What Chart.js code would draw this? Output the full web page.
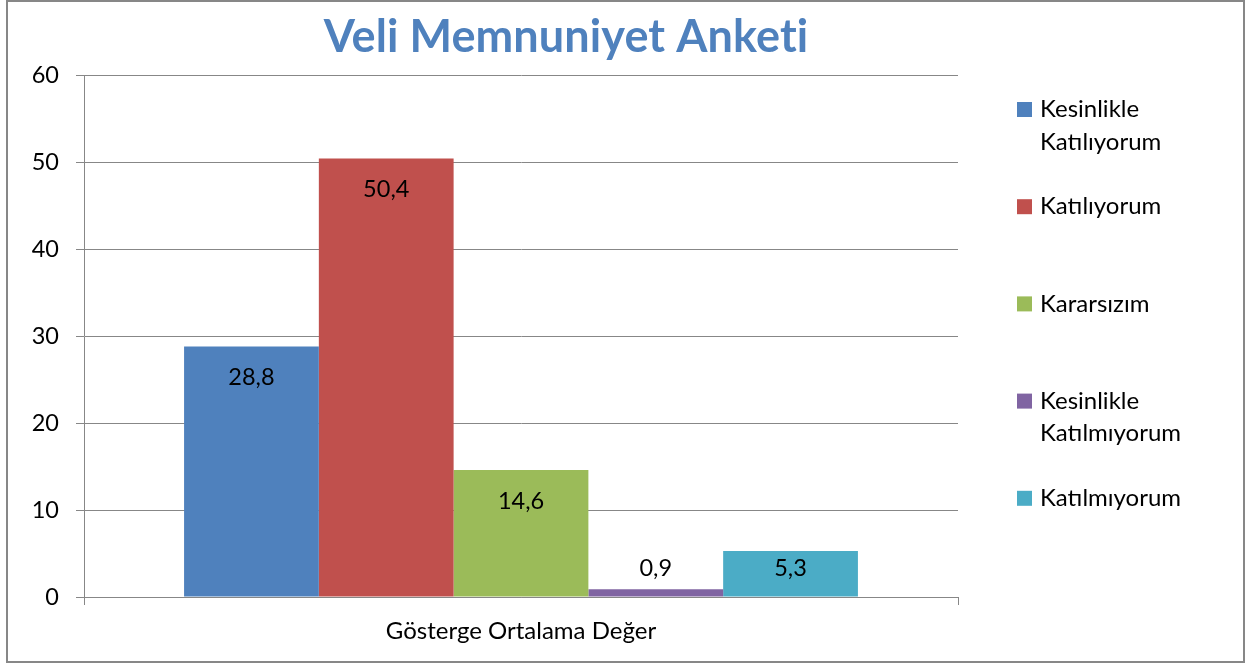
<!DOCTYPE html>
<html>
<head>
<meta charset="utf-8">
<script src="https://cdn.jsdelivr.net/npm/chart.js@4.4.1/dist/chart.umd.min.js"></script>
<style>
html,body{margin:0;padding:0;background:#fff;}
#wrap{width:1248px;height:666px;position:relative;}
</style>
</head>
<body>
<div id="wrap"><canvas id="c" width="1248" height="666"></canvas></div>
<script>
const chartTitle = 'Veli Memnuniyet Anketi';
const categories = ['Gösterge Ortalama Değer'];
const seriesNames = ['Kesinlikle Katılıyorum', 'Katılıyorum', 'Kararsızım', 'Kesinlikle Katılmıyorum', 'Katılmıyorum'];
const seriesValues = [28.8, 50.4, 14.6, 0.9, 5.3];
const seriesColors = ['#4F81BD', '#C0504D', '#9BBB59', '#8064A2', '#4BACC6'];
const yTicks = [0, 10, 20, 30, 40, 50, 60];

const FONT = 'Lato, "Open Sans", sans-serif';
const GRID = '#878787';

const framePlugin = {
  id: 'frame',
  beforeDraw(chart) {
    const ctx = chart.ctx;
    ctx.save();
    ctx.fillStyle = '#fff';
    ctx.fillRect(0, 0, chart.width, chart.height);
    ctx.strokeStyle = GRID;
    ctx.lineWidth = 2;
    ctx.strokeRect(7, 1, 1237, 661);
    ctx.restore();
  }
};

const titlePlugin = {
  id: 'customTitle',
  afterDraw(chart) {
    const ctx = chart.ctx;
    ctx.save();
    ctx.font = 'bold 45px ' + FONT;
    if ('letterSpacing' in ctx) ctx.letterSpacing = '0.1px';
    ctx.fillStyle = '#4F81BD';
    ctx.textAlign = 'center';
    ctx.textBaseline = 'middle';
    ctx.fillText(chartTitle, 566, 37);
    ctx.restore();
  }
};

const labelPlugin = {
  id: 'barLabels',
  afterDatasetsDraw(chart) {
    const ctx = chart.ctx;
    ctx.save();
    ctx.font = '23.5px ' + FONT;
    ctx.fillStyle = '#000';
    ctx.textAlign = 'center';
    ctx.textBaseline = 'middle';
    chart.data.datasets.forEach((ds, i) => {
      const meta = chart.getDatasetMeta(i);
      meta.data.forEach((bar, j) => {
        const v = ds.data[j];
        const y = Math.min(bar.y + 31, bar.base - 28);
        ctx.fillText(String(v).replace('.', ','), bar.x, y);
      });
    });
    ctx.restore();
  }
};

const legendPlugin = {
  id: 'customLegend',
  afterDraw(chart) {
    const ctx = chart.ctx;
    ctx.save();
    ctx.font = '24px ' + FONT;
    ctx.textBaseline = 'middle';
    ctx.textAlign = 'left';
    chart.data.datasets.forEach((ds, i) => {
      const cy = 109.5 + i * 97.2;
      ctx.fillStyle = ds.backgroundColor;
      ctx.fillRect(1017, cy - 7.5, 15, 15);
      ctx.fillStyle = '#000';
      const words = ds.label.split(' ');
      let lines = [];
      if (ctx.measureText(ds.label).width > 190 && words.length > 1) {
        lines = [words[0], words.slice(1).join(' ')];
      } else {
        lines = [ds.label];
      }
      lines.forEach((ln, k) => ctx.fillText(ln, 1040, cy + k * 32.5));
    });
    ctx.restore();
  }
};

const datasets = seriesNames.map((name, i) => ({
  label: name,
  data: [seriesValues[i]],
  backgroundColor: seriesColors[i],
  borderWidth: 0,
  categoryPercentage: 0.771,
  barPercentage: 1.0
}));

new Chart(document.getElementById('c'), {
  type: 'bar',
  data: { labels: categories, datasets },
  options: {
    responsive: false,
    animation: false,
    devicePixelRatio: 1,
    layout: { padding: { top: 75, right: 290, left: 0, bottom: 19 } },
    plugins: { legend: { display: false }, title: { display: false }, tooltip: { enabled: false } },
    scales: {
      x: {
        offset: true,
        grid: { display: true, drawOnChartArea: false, drawTicks: true, tickLength: 8, color: GRID, lineWidth: 1, offset: true },
        border: { display: true, color: GRID, width: 1 },
        ticks: { color: '#000', font: { family: FONT, size: 24 }, padding: 12 },
        afterFit(s) { s.height = 50; }
      },
      y: {
        min: 0, max: 60,
        afterBuildTicks(s) { s.ticks = yTicks.map(v => ({ value: v })); },
        grid: { color: GRID, lineWidth: 1, drawTicks: true, tickLength: 8 },
        border: { display: true, color: GRID, width: 1 },
        ticks: { color: '#000', font: { family: FONT, size: 23.5 }, padding: 17 },
        afterFit(s) { s.width = 84; }
      }
    }
  },
  plugins: [framePlugin, titlePlugin, labelPlugin, legendPlugin]
});
</script>
</body>
</html>
